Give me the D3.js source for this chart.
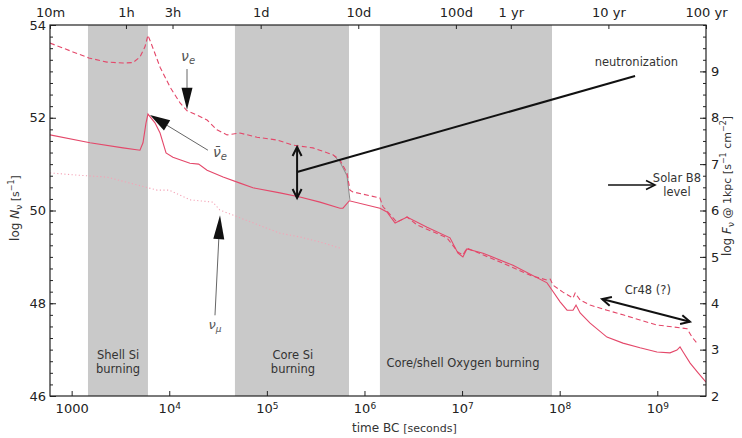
<!DOCTYPE html>
<html>
<head>
<meta charset="utf-8">
<script src="https://cdn.jsdelivr.net/npm/d3@7"></script>
<style>
  body { margin: 0; background: #fff; }
  svg text { font-family: "DejaVu Sans", sans-serif; }
</style>
</head>
<body>
<svg id="chart" width="742" height="438"></svg>
<script>
// ---------- data: pre-supernova neutrino emission vs time before collapse ----------
// anti electron neutrinos (solid)
const antiNuETime = [600, 1540, 3360, 5010, 5380, 5780, 6050, 7140, 8050, 9270,
  10900, 13100, 16300, 20000, 24400, 35600, 53000, 72000, 136000, 218000,
  350000, 561000, 602000, 700000, 1440000, 1700000, 2060000, 2730000, 4380000, 7520000,
  9080000, 10200000, 11200000, 16400000, 33200000, 74200000, 83000000, 101000000, 119000000, 137000000,
  147000000, 162000000, 205000000, 305000000, 445000000, 665000000, 993000000, 1350000000, 1590000000, 1710000000,
  1840000000, 2170000000, 2620000000, 3155760000];
const antiNuE = [51.63, 51.46, 51.35, 51.30, 51.46, 51.89, 52.08, 51.89, 51.67, 51.24,
  51.15, 51.09, 51.02, 51.00, 50.87, 50.72, 50.59, 50.49, 50.38, 50.29,
  50.18, 50.05, 50.05, 50.21, 50.05, 49.97, 49.73, 49.86, 49.64, 49.41,
  49.08, 49.00, 49.17, 49.08, 48.82, 48.44, 48.29, 48.03, 47.85, 47.85,
  47.96, 47.79, 47.57, 47.27, 47.14, 47.04, 46.95, 46.93, 46.99, 47.06,
  46.95, 46.71, 46.50, 46.30];

// electron neutrinos (dashed)
const nuETime = [600, 1030, 1500, 2300, 3360, 4250, 5010, 5640, 6050, 6810,
  8050, 10200, 12900, 15200, 19200, 24400, 30800, 39100, 53000, 79300,
  127000, 185000, 297000, 476000, 560000, 662000, 710000, 762000, 1440000, 1550000,
  2150000, 2730000, 3450000, 7010000, 9100000, 10200000, 11200000, 24500000, 52000000, 74200000,
  80000000, 85500000, 108000000, 137000000, 144000000, 162000000, 205000000, 305000000, 445000000, 665000000,
  993000000, 1450000000, 2020000000, 2270000000, 2550000000];
const nuE = [53.61, 53.42, 53.29, 53.20, 53.18, 53.19, 53.31, 53.53, 53.78, 53.50,
  53.09, 52.66, 52.32, 52.15, 52.06, 51.95, 51.74, 51.63, 51.67, 51.58,
  51.52, 51.41, 51.35, 51.20, 51.09, 50.81, 50.44, 50.40, 50.27, 50.08,
  49.75, 49.86, 49.69, 49.41, 49.10, 49.04, 49.19, 48.89, 48.59, 48.50,
  48.52, 48.39, 48.24, 48.11, 48.22, 48.07, 47.96, 47.85, 47.75, 47.64,
  47.53, 47.49, 47.45, 47.27, 47.14];

// muon neutrinos (dotted)
const nuMuTime = [600, 1030, 2300, 7480, 10000, 16300, 28000, 33000, 136000, 218000, 350000, 561000];
const nuMu = [50.81, 50.77, 50.72, 50.44, 50.44, 50.23, 50.18, 50.01, 49.51, 49.43, 49.32, 49.19];

// other flavours (thin grey), visible across the end of core Si burning
const nuXTime = [476000, 560000, 662000, 710000];
const nuX = [51.20, 51.05, 50.75, 50.22];

// burning phases (shaded)
const phaseNames = [["Shell Si", "burning"], ["Core Si", "burning"], ["Core/shell Oxygen burning"]];
const phaseStart = [1470, 47100, 1440000];
const phaseEnd = [6050, 694000, 83400000];
const phaseLabelTime = [2990, 185000, 10200000];

// axes
const bottomTicks = [1e3, 1e4, 1e5, 1e6, 1e7, 1e8, 1e9];
const topTickTimes = [600, 3600, 10800, 86400, 864000, 8640000, 31557600, 315576000, 3155760000];
const topTickLabels = ["10m", "1h", "3h", "1d", "10d", "100d", "1 yr", "10 yr", "100 yr"];
const leftTicks = [46, 48, 50, 52, 54];
const rightTicks = [2, 3, 4, 5, 6, 7, 8, 9];

// ---------- layout ----------
const W = 742, H = 438;
const m = { left: 50, right: 36, top: 25, bottom: 42 };
const x0 = m.left, x1 = W - m.right, y0 = m.top, y1 = H - m.bottom;

const svg = d3.select("#chart");
const x = d3.scaleLog().domain([600, 3155760000]).range([x0, x1]);
const y = d3.scaleLinear().domain([46, 54]).range([y1, y0]);
const yFlux = d3.scaleLinear().domain([2, 10]).range([y1, y0]);

const RED = "#e4486a";
const PINK = "#f4a3b6";
const BAND = "#c9c9c9";
const TXT = "#333";

svg.append("defs").append("clipPath").attr("id", "plot")
  .append("rect").attr("x", x0).attr("y", y0).attr("width", x1 - x0).attr("height", y1 - y0);

// shaded phases
svg.append("g").selectAll("rect").data(d3.range(phaseStart.length)).join("rect")
  .attr("x", i => x(phaseStart[i]))
  .attr("width", i => x(phaseEnd[i]) - x(phaseStart[i]))
  .attr("y", y0).attr("height", y1 - y0)
  .attr("fill", BAND);

// phase labels
const phaseY = [[46.88, 46.58], [46.88, 46.58], [46.71]];
phaseNames.forEach((lines, i) => {
  lines.forEach((s, k) => {
    svg.append("text")
      .attr("x", x(phaseLabelTime[i])).attr("y", y(phaseY[i][k]))
      .attr("dy", "0.35em").attr("text-anchor", "middle")
      .attr("font-size", 11.5).attr("fill", TXT).text(s);
  });
});

// ---------- series ----------
const line = d3.line().x(d => x(d[0])).y(d => y(d[1]));
const plotG = svg.append("g").attr("clip-path", "url(#plot)");

plotG.append("path").datum(d3.zip(nuXTime, nuX))
  .attr("d", line).attr("fill", "none").attr("stroke", "#8a8a8a").attr("stroke-width", 1);

plotG.append("path").datum(d3.zip(nuMuTime, nuMu))
  .attr("d", line).attr("fill", "none").attr("stroke", PINK)
  .attr("stroke-width", 1.1).attr("stroke-dasharray", "1.2,2.4");

plotG.append("path").datum(d3.zip(nuETime, nuE))
  .attr("d", line).attr("fill", "none").attr("stroke", RED)
  .attr("stroke-width", 1.1).attr("stroke-dasharray", "5,3");

plotG.append("path").datum(d3.zip(antiNuETime, antiNuE))
  .attr("d", line).attr("fill", "none").attr("stroke", RED).attr("stroke-width", 1.1);

// ---------- axes ----------
function styleAxis(g) {
  g.select(".domain").remove();
  g.selectAll(".tick line").attr("stroke", "#222").attr("stroke-width", 1);
  g.selectAll(".tick text").attr("fill", "#222").attr("font-size", 13)
    .attr("font-family", "DejaVu Sans, sans-serif");
}

// bottom: seconds
const gB = svg.append("g").attr("transform", `translate(0,${y1})`)
  .call(d3.axisBottom(x).tickValues(bottomTicks).tickSizeInner(-5).tickSizeOuter(0).tickPadding(8)
    .tickFormat(d => d))
  .call(styleAxis);
gB.selectAll(".tick text").each(function (d) {
  const t = d3.select(this);
  const e = Math.round(Math.log10(d));
  t.text(null);
  if (e === 3) { t.text("1000"); return; }
  t.append("tspan").text("10");
  t.append("tspan").attr("dy", "-0.45em").attr("font-size", 9).text(e);
});

// top: human-readable times
svg.append("g").attr("transform", `translate(0,${y0})`)
  .call(d3.axisTop(x).tickValues(topTickTimes).tickSizeInner(-4).tickSizeOuter(0).tickPadding(8)
    .tickFormat((d, i) => topTickLabels[i]))
  .call(styleAxis);

// left: log N
svg.append("g").attr("transform", `translate(${x0},0)`)
  .call(d3.axisLeft(y).tickValues(d3.range(46, 54.001, 0.25)).tickSizeInner(-3).tickSizeOuter(0).tickFormat(""))
  .call(styleAxis);
svg.append("g").attr("transform", `translate(${x0},0)`)
  .call(d3.axisLeft(y).tickValues(leftTicks).tickSizeInner(-6).tickSizeOuter(0).tickPadding(4))
  .call(styleAxis);

// right: flux at 1 kpc
svg.append("g").attr("transform", `translate(${x1},0)`)
  .call(d3.axisRight(yFlux).tickValues(d3.range(2, 10.001, 0.25)).tickSizeInner(-3).tickSizeOuter(0).tickFormat(""))
  .call(styleAxis);
svg.append("g").attr("transform", `translate(${x1},0)`)
  .call(d3.axisRight(yFlux).tickValues(rightTicks).tickSizeInner(-6).tickSizeOuter(0).tickPadding(5))
  .call(styleAxis);

// frame
svg.append("rect").attr("x", x0).attr("y", y0).attr("width", x1 - x0).attr("height", y1 - y0)
  .attr("fill", "none").attr("stroke", "#222").attr("stroke-width", 1.2);

// ---------- rich text helper ----------
function rich(sel, parts) {
  parts.forEach(p => {
    const ts = sel.append("tspan").text(p.t);
    if (p.size) ts.attr("font-size", p.size);
    if (p.italic) ts.attr("font-style", "italic");
    if (p.family) ts.attr("font-family", p.family);
    if (p.dy) ts.attr("dy", p.dy);
  });
  return sel;
}

// axis titles
const xt = svg.append("text").attr("x", 352).attr("y", 432).attr("fill", TXT);
rich(xt, [{ t: "time BC ", size: 12 }, { t: "[seconds]", size: 11 }]);

const yl = svg.append("text").attr("transform", `translate(19,208) rotate(-90)`)
  .attr("text-anchor", "middle").attr("fill", TXT).attr("font-size", 12);
rich(yl, [{ t: "log " }, { t: "N", italic: true }, { t: "ν", size: 9, dy: 3 }, { t: " [s", size: 11, dy: -3 },
  { t: "−1", size: 8, dy: -5 }, { t: "]", size: 11, dy: 5 }]);

const yr = svg.append("text").attr("transform", `translate(731,186) rotate(-90)`)
  .attr("text-anchor", "middle").attr("fill", TXT).attr("font-size", 12);
rich(yr, [{ t: "log " }, { t: "F", italic: true }, { t: "ν", size: 9, dy: 3 }, { t: " @ 1kpc [s", size: 11, dy: -3 },
  { t: "−1", size: 8, dy: -5 }, { t: " cm", size: 11, dy: 5 }, { t: "−2", size: 8, dy: -5 }, { t: "]", size: 11, dy: 5 }]);

// ---------- annotations ----------
function head(g, ax, ay, bx, by, len, half) {
  const dx = bx - ax, dy = by - ay, L = Math.hypot(dx, dy);
  const ux = dx / L, uy = dy / L, nx = -uy, ny = ux;
  const cx = bx - ux * len, cy = by - uy * len;
  g.append("path")
    .attr("d", `M${bx},${by}L${cx + nx * half},${cy + ny * half}L${cx - nx * half},${cy - ny * half}Z`)
    .attr("fill", "#111");
  return [cx, cy];
}
function chevron(g, ax, ay, bx, by, len, half, lw) {
  const dx = bx - ax, dy = by - ay, L = Math.hypot(dx, dy);
  const ux = dx / L, uy = dy / L, nx = -uy, ny = ux;
  const cx = bx - ux * len, cy = by - uy * len;
  g.append("path")
    .attr("d", `M${cx + nx * half},${cy + ny * half}L${bx},${by}L${cx - nx * half},${cy - ny * half}`)
    .attr("fill", "none").attr("stroke", "#111").attr("stroke-width", lw);
}
// arrow with thin grey shaft and solid black head
function pointer(from, to, len, half) {
  const g = svg.append("g");
  const ax = x(from[0]), ay = y(from[1]), bx = x(to[0]), by = y(to[1]);
  const [cx, cy] = head(g, ax, ay, bx, by, len, half);
  g.insert("line", "path").attr("x1", ax).attr("y1", ay).attr("x2", cx).attr("y2", cy)
    .attr("stroke", "#666").attr("stroke-width", 1);
}
function doubleArrow(a, b, lw, yScale) {
  const ys = yScale || y;
  const g = svg.append("g");
  const ax = x(a[0]), ay = ys(a[1]), bx = x(b[0]), by = ys(b[1]);
  g.append("line").attr("x1", ax).attr("y1", ay).attr("x2", bx).attr("y2", by)
    .attr("stroke", "#111").attr("stroke-width", lw);
  chevron(g, ax, ay, bx, by, 9, 4.5, lw);
  chevron(g, bx, by, ax, ay, 9, 4.5, lw);
}

// nu_e
pointer([15200, 53.05], [15200, 52.17], 22, 5.5);
const lbl1 = svg.append("text").attr("x", x(15600)).attr("y", y(53.29)).attr("dy", "0.2em")
  .attr("text-anchor", "middle").attr("fill", "#555").attr("font-family", "DejaVu Serif, serif").attr("font-style", "italic").attr("font-size", 14);
rich(lbl1, [{ t: "ν" }, { t: "e", size: 10, dy: 3 }]);

// anti nu_e
pointer([24900, 51.30], [6350, 52.06], 20, 6);
const lbl2 = svg.append("text").attr("x", x(33100)).attr("y", y(51.22)).attr("dy", "0.2em")
  .attr("text-anchor", "middle").attr("fill", "#555").attr("font-family", "DejaVu Serif, serif").attr("font-style", "italic").attr("font-size", 14);
rich(lbl2, [{ t: "ν̄" }, { t: "e", size: 10, dy: 3 }]);

// nu_mu
pointer([29400, 47.74], [33100, 49.90], 24, 5.5);
const lbl3 = svg.append("text").attr("x", x(29400)).attr("y", y(47.50)).attr("dy", "0.2em")
  .attr("text-anchor", "middle").attr("fill", "#555").attr("font-family", "DejaVu Serif, serif").attr("font-style", "italic").attr("font-size", 13);
rich(lbl3, [{ t: "ν" }, { t: "μ", size: 9, dy: 3 }]);

// neutronization gap between nu_e and anti nu_e
doubleArrow([204000, 51.37], [204000, 50.27], 2);
svg.append("line").attr("x1", x(204000)).attr("y1", y(50.83)).attr("x2", x(5.92e8)).attr("y2", y(52.90))
  .attr("stroke", "#111").attr("stroke-width", 2);
svg.append("text").attr("x", x(6.1e8)).attr("y", y(53.2)).attr("dy", "0.35em")
  .attr("text-anchor", "middle").attr("fill", TXT).attr("font-size", 11.5).text("neutronization");

// solar B8 flux level
{
  const g = svg.append("g");
  const ax = x(3.13e8), bx = x(9.48e8), yy = yFlux(6.55);
  g.append("line").attr("x1", ax).attr("y1", yy).attr("x2", bx).attr("y2", yy)
    .attr("stroke", "#111").attr("stroke-width", 1.6);
  chevron(g, ax, yy, bx, yy, 9, 4.5, 1.6);
  svg.append("text").attr("x", x(1.59e9)).attr("y", yFlux(6.70)).attr("dy", "0.35em")
    .attr("text-anchor", "middle").attr("fill", TXT).attr("font-size", 11.5).text("Solar B8");
  svg.append("text").attr("x", x(1.59e9)).attr("y", yFlux(6.40)).attr("dy", "0.35em")
    .attr("text-anchor", "middle").attr("fill", TXT).attr("font-size", 11.5).text("level");
}

// Cr48
doubleArrow([2.72e8, 48.09], [2.16e9, 47.60], 2);
svg.append("text").attr("x", x(8.0e8)).attr("y", y(48.29)).attr("dy", "0.35em")
  .attr("text-anchor", "middle").attr("fill", TXT).attr("font-size", 11.5).text("Cr48 (?)");
</script>
</body>
</html>
